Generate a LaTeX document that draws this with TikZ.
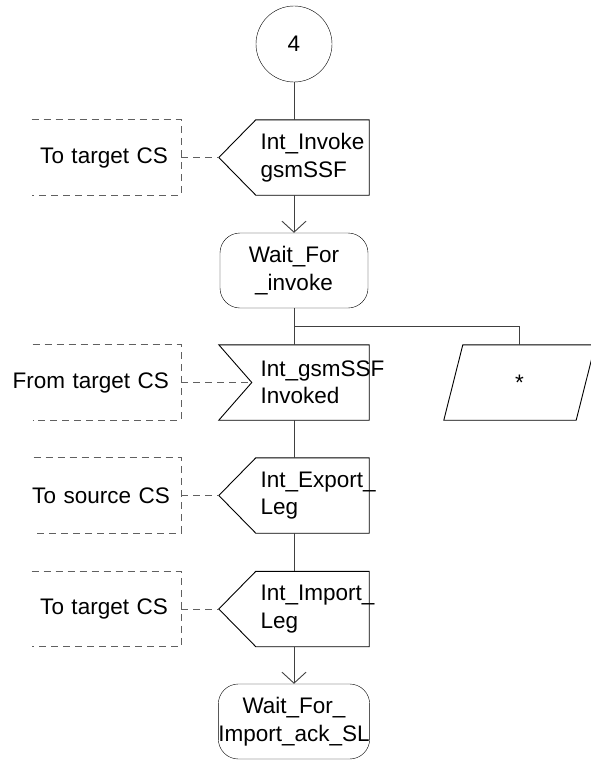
\documentclass[tikz,border=0pt]{standalone}
\usepackage{fontspec}
\setmainfont{Liberation Sans}
\usetikzlibrary{arrows.meta}
\definecolor{flowc}{HTML}{404040}
\definecolor{dashc}{HTML}{606060}

\tikzset{
  sdl/.style={font=\fontsize{22.5}{27.5}\selectfont},
  conn/.style={sdl, circle, draw, minimum size=76pt, inner sep=0pt},
  sigbox/.style={sdl, minimum width=113pt, minimum height=75pt, text width=104pt,
    inner xsep=4.5pt, inner ysep=0pt, align=left},
  statebox/.style={sdl, draw, rounded corners=20pt, minimum width=148pt,
    minimum height=75pt, inner sep=0pt, align=center},
  envbox/.style={sdl, text width=160pt, minimum height=75pt, inner sep=0pt,
    align=right, anchor=east},
  outline/.style={draw, line width=0.9pt},
  flow/.style={flowc, line width=0.9pt},
  arr/.style={flow, -{Straight Barb[length=11pt, width=24pt]}},
  dashbox/.style={dashc, dash pattern=on 7pt off 5pt, line width=0.9pt}
}

\begin{document}
\begin{tikzpicture}[x=1pt, y=-1pt]
  \useasboundingbox (0,0) rectangle (590,760);

  % main column
  \node[conn] (c4) at (294,44) {4};
  \node[sigbox] (o1) at (312.5,157.5) {Int\_Invoke\\gsmSSF};
  \node[statebox] (st1) at (294,270.5) {Wait\_For\\\_invoke};
  \node[sigbox] (i1) at (312.5,382.5) {Int\_gsmSSF\\Invoked};
  \node[sigbox] (o3) at (312.5,495.5) {Int\_Export\_\\Leg};
  \node[sigbox] (o4) at (312.5,609) {Int\_Import\_\\Leg};
  \node[statebox] (st2) at (294,721.5) {Wait\_For\_\\Import\_ack\_SL};

  % save branch
  \coordinate (br) at (294,326);
  \node[sdl, minimum width=132pt, minimum height=75pt, inner sep=0pt] (any) at (519.5,382.5) {*};

  % environment
  \node[envbox] (d1) at (168,157.5) {To target CS};
  \node[envbox] (d2) at (169,382.5) {From target CS};
  \node[envbox] (d3) at (170,495.5) {To source CS};
  \node[envbox] (d4) at (168,609) {To target CS};

  % symbol outlines
  \foreach \o in {o1,o3,o4}
    \draw[outline] (\o.north east) -- (\o.north west) -- ([xshift=-37pt]\o.west)
      -- (\o.south west) -- (\o.south east) -- cycle;
  \draw[outline] ([xshift=-37pt]i1.north west) -- (i1.north east) -- (i1.south east)
    -- ([xshift=-37pt]i1.south west) -- ([xshift=-4pt]i1.west) -- cycle;
  \draw[outline] ([xshift=9.5pt]any.north west) -- ([xshift=9.5pt]any.north east)
    -- ([xshift=-9.5pt]any.south east) -- ([xshift=-9.5pt]any.south west) -- cycle;
  \foreach \d in {d1,d2,d3,d4}
    \draw[dashbox] ([xshift=24pt]\d.north west) -| (181,0 |- \d.south)
      -- ([xshift=24pt]\d.south west);

  % flow
  \draw[flow] (c4.south) -- (c4.south |- o1.north);
  \draw[arr] (c4.south |- o1.south) -- (st1.north);
  \draw[flow] (st1.south) -- (st1.south |- i1.north);
  \draw[flow] (br) -| (any.north);
  \draw[flow] (st1.south |- i1.south) -- (st1.south |- o3.north);
  \draw[flow] (st1.south |- o3.south) -- (st1.south |- o4.north);
  \draw[arr] (st1.south |- o4.south) -- (st2.north);

  % signal routes
  \draw[dashbox] (181,0 |- d1.east) -- ([xshift=-37pt]o1.west);
  \draw[dashbox] (181,0 |- d2.east) -- ([xshift=-4pt]i1.west);
  \draw[dashbox] (181,0 |- d3.east) -- ([xshift=-37pt]o3.west);
  \draw[dashbox] (181,0 |- d4.east) -- ([xshift=-37pt]o4.west);
\end{tikzpicture}
\end{document}
